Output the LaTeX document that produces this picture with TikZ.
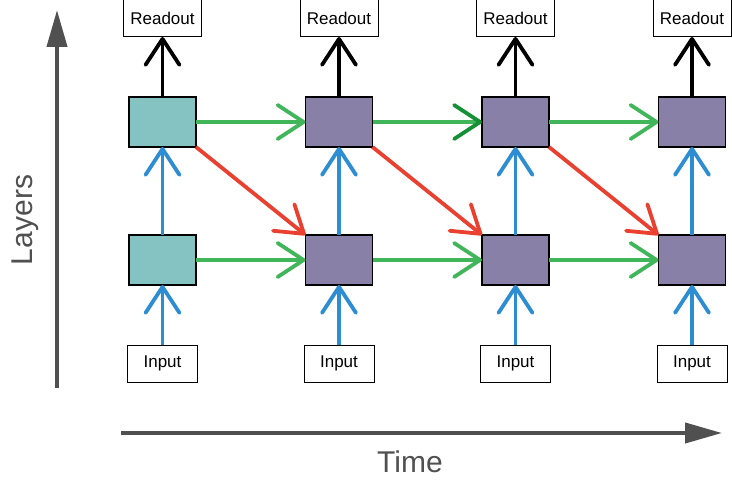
\documentclass[tikz,border=0pt]{standalone}
\usepackage{fontspec}
\setmainfont{Liberation Sans}
\usetikzlibrary{arrows.meta}
\definecolor{cellteal}{RGB}{133,194,194}
\definecolor{cellpurple}{RGB}{137,128,168}
\definecolor{flowgreen}{RGB}{64,181,90}
\definecolor{flowdarkgreen}{RGB}{20,145,55}
\definecolor{flowblue}{RGB}{44,141,211}
\definecolor{flowred}{RGB}{233,64,48}
\definecolor{axisgray}{RGB}{80,80,80}
\tikzset{
  cell/.style={draw=black, line width=1.2pt, minimum width=67pt, minimum height=50pt, inner sep=0, outer sep=0},
  iobox/.style={draw=black, line width=1pt, fill=white, minimum height=37pt, inner sep=0, outer sep=0, font=\fontsize{17}{17}\selectfont},
  flow/.style={line width=3.8pt, -{Straight Barb[length=26pt,width=34pt,round]}},
  axis/.style={axisgray, line width=4pt, -{Triangle[length=37pt,width=20pt]}},
  axislabel/.style={text=axisgray, font=\fontsize{30}{30}\selectfont},
}

\begin{document}
\begin{tikzpicture}[x=1pt, y=-1pt]
    \useasboundingbox (0,0) rectangle (732,487);
    % assen
    \coordinate (l0) at (57,388);
    \coordinate (l1) at (57,10);
    \coordinate (t0) at (121,433);
    \coordinate (t1) at (722,433);
    \draw[axis] (l0) -- (l1);
    \draw[axis] (t0) -- (t1);
    \node[axislabel, rotate=90] (layers) at (25,220) {Layers};
    \node[axislabel] (time) at (410,462) {Time};
    % cellen
    \foreach \i/\col in {1/cellteal,2/cellpurple,3/cellpurple,4/cellpurple} {
        \pgfmathsetmacro{\xx}{162.5+(\i-1)*176.5}
        \node[iobox, minimum width=78pt] (r\i) at (\xx,18.5) {Readout};
        \node[cell, fill=\col] (t\i) at (\xx,122) {};
        \node[cell, fill=\col] (b\i) at (\xx,260) {};
        \node[iobox, minimum width=70pt] (in\i) at (\xx,363.5) {Input};
    }
    % verticaal
    \foreach \i in {1,...,4} {
        \draw[flow, flowblue] (in\i) -- (b\i);
        \draw[flow, flowblue] (b\i) -- (t\i);
        \draw[flow, black] (t\i) -- (r\i);
    }
    % tijd
    \foreach \i/\j in {1/2,2/3,3/4} {
        \draw[flow, flowgreen] (b\i) -- (b\j);
        \draw[flow, flowred] (t\i.south east) -- (b\j.north west);
    }
    \draw[flow, flowgreen] (t1) -- (t2);
    \draw[flow, flowgreen, -{Straight Barb[length=26pt,width=34pt,round,color=flowdarkgreen]}] (t2) -- (t3);
    \draw[flow, flowgreen] (t3) -- (t4);
\end{tikzpicture}
\end{document}
